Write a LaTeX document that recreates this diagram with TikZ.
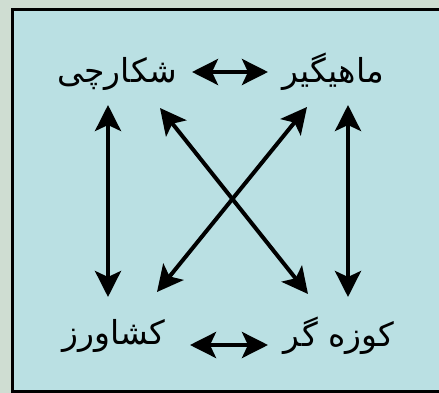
\documentclass[tikz,border=0pt]{standalone}
\usepackage{fontspec}
\newfontfamily\arabicfont[Script=Arabic]{DejaVu Sans}
\TeXXeTstate=1
\usetikzlibrary{arrows.meta}
\definecolor{outerbg}{HTML}{CFDDD2}
\definecolor{innerbg}{HTML}{BAE0E3}
\begin{document}
\begin{tikzpicture}[x=1pt,y=-1pt,
  lbl/.style={font=\arabicfont\fontsize{33}{40}\selectfont, inner sep=0pt, minimum width=110pt, minimum height=44pt},
  arr/.style={line width=4pt, {Stealth[length=26pt,width=26pt,inset=6pt]}-{Stealth[length=26pt,width=26pt,inset=6pt]}}]
\useasboundingbox (0,0) rectangle (439,393);
\fill[outerbg] (0,0) rectangle (439,393);
\filldraw[fill=innerbg, line width=3.5pt] (12.5,9.5) rectangle (450,391.5);
\node[lbl] (sh) at (117,74) {\beginR شکارچی\endR};
\node[lbl] (ma) at (333,72) {\beginR ماهیگیر\endR};
\node[lbl] (ke) at (114,336) {\beginR کشاورز\endR};
\node[lbl] (ko) at (339,336) {\beginR کوزه گر\endR};
\draw[arr] ([shift={(75,-2)}]sh.center) -- ([shift={(-65,0)}]ma.center);
\draw[arr] ([shift={(76,9)}]ke.center) -- ([shift={(-71,9)}]ko.center);
\draw[arr] ([shift={(-9,31)}]sh.center) -- ([shift={(-6,-39)}]ke.center);
\draw[arr] ([shift={(15,33)}]ma.center) -- ([shift={(9,-39)}]ko.center);
\draw[arr] ([shift={(43,34)}]sh.center) -- ([shift={(-31,-42)}]ko.center);
\draw[arr] ([shift={(-26,35)}]ma.center) -- ([shift={(43,-44)}]ke.center);
\end{tikzpicture}
\end{document}
